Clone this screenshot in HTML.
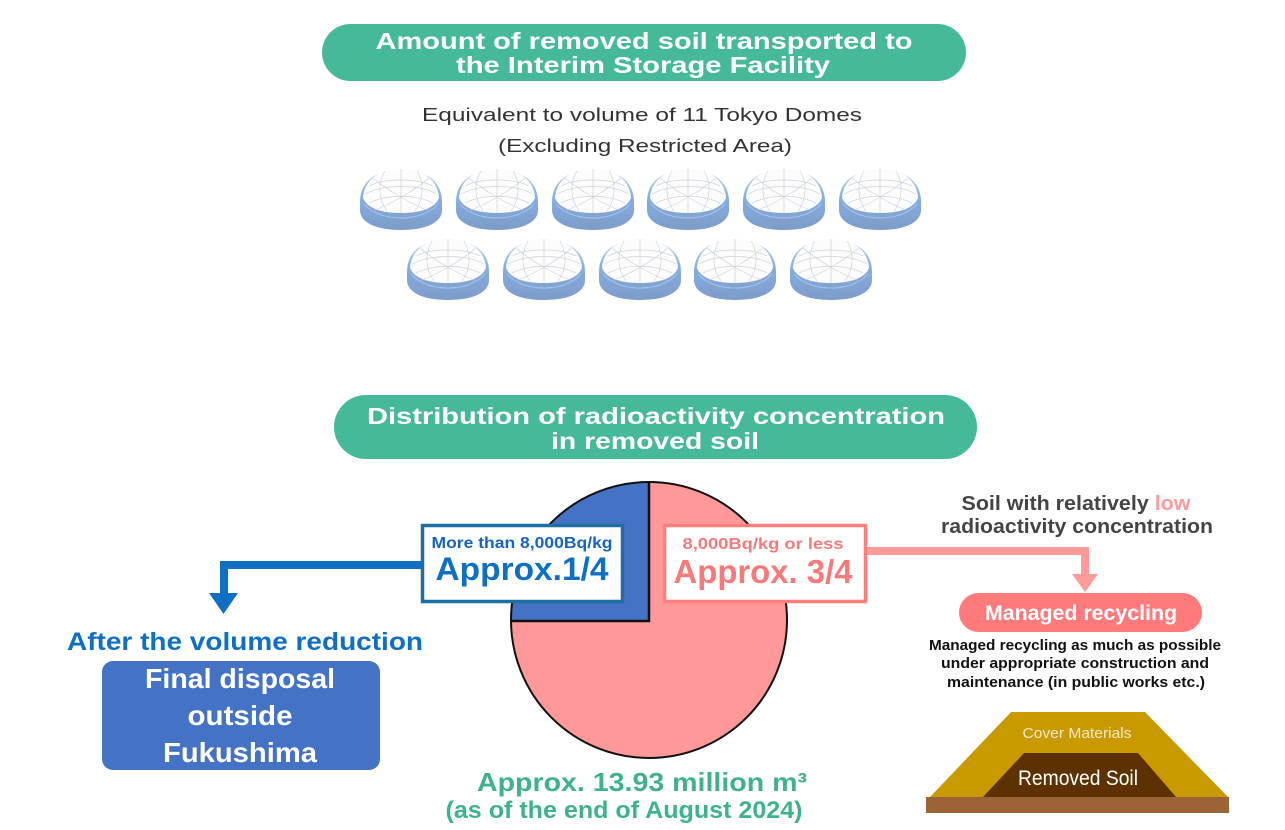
<!DOCTYPE html>
<html><head><meta charset="utf-8"><style>
html,body{margin:0;padding:0;background:#fff;}
svg{display:block;}
text{font-family:"Liberation Sans",Arial,sans-serif;}
</style></head><body>
<svg width="1285" height="830" viewBox="0 0 1285 830" xmlns="http://www.w3.org/2000/svg">
<defs>
<linearGradient id="band" x1="0" y1="0" x2="0" y2="1">
<stop offset="0" stop-color="#b3cdef"/><stop offset="0.5" stop-color="#86acdf"/><stop offset="1" stop-color="#7d9cc8"/>
</linearGradient>
<g id="dome">
<path d="M1,34 C1,14 16,2 42,2 C68,2 83,14 83,34 L83,42 C83,55 66,62 42,62 C18,62 1,55 1,42 Z" fill="url(#band)"/>
<path d="M4,30 C5,12 20,1 42,1 C64,1 79,12 80,30 C76,40 62,45 42,45 C22,45 8,40 4,30 Z" fill="#fcfcfc"/>
<g fill="none" stroke="#cfd2d8" stroke-width="0.7">
<path d="M10,18 C25,10 58,10 74,18"/>
<path d="M6,26 C25,16 60,16 78,26"/>
<path d="M10,35 C28,26 56,26 74,35"/>
<path d="M26,3 C18,16 20,32 28,43"/>
<path d="M42,1 L42,45"/>
<path d="M58,3 C66,16 64,32 56,43"/>
<path d="M14,10 C28,22 52,36 68,42"/>
<path d="M70,10 C56,22 32,36 16,42"/>
</g>
<path d="M5,36 C14,46 28,50 42,50 C56,50 70,46 79,36" fill="none" stroke="#a7c2e8" stroke-width="1"/>
</g>
</defs>

<!-- Header 1 -->
<rect x="322" y="24" width="644" height="57" rx="28.5" fill="#45b998"/>
<text x="644" y="49" font-size="23" font-weight="bold" fill="#fff" text-anchor="middle" textLength="537" lengthAdjust="spacingAndGlyphs">Amount of removed soil transported to</text>
<text x="643" y="73" font-size="23" font-weight="bold" fill="#fff" text-anchor="middle" textLength="374" lengthAdjust="spacingAndGlyphs">the Interim Storage Facility</text>

<text x="642" y="121" font-size="18" fill="#333" text-anchor="middle" textLength="440" lengthAdjust="spacingAndGlyphs">Equivalent to volume of 11 Tokyo Domes</text>
<text x="645" y="152" font-size="18" fill="#333" text-anchor="middle" textLength="294" lengthAdjust="spacingAndGlyphs">(Excluding Restricted Area)</text>

<!-- Domes -->
<use href="#dome" x="359" y="168"/>
<use href="#dome" x="455" y="168"/>
<use href="#dome" x="551" y="168"/>
<use href="#dome" x="646" y="168"/>
<use href="#dome" x="742" y="168"/>
<use href="#dome" x="838" y="168"/>
<use href="#dome" x="406" y="238"/>
<use href="#dome" x="502" y="238"/>
<use href="#dome" x="598" y="238"/>
<use href="#dome" x="693" y="238"/>
<use href="#dome" x="789" y="238"/>

<!-- Header 2 -->
<rect x="334" y="395" width="643" height="64" rx="32" fill="#45b998"/>
<text x="656" y="424" font-size="23" font-weight="bold" fill="#fff" text-anchor="middle" textLength="578" lengthAdjust="spacingAndGlyphs">Distribution of radioactivity concentration</text>
<text x="655" y="449" font-size="23" font-weight="bold" fill="#fff" text-anchor="middle" textLength="208" lengthAdjust="spacingAndGlyphs">in removed soil</text>

<!-- Pie -->
<path d="M649,620 L649,482 A138,138 0 1 1 511,620 Z" fill="#ff9999"/>
<path d="M649,620 L511,620 A138,138 0 0 1 649,482 Z" fill="#4472c4"/>
<circle cx="649" cy="620" r="138" fill="none" stroke="#111" stroke-width="2"/>
<path d="M511,621 L649,621 L649,482" fill="none" stroke="#111" stroke-width="2.5"/>

<!-- Blue connector -->
<path d="M421,565 L224,565 L224,594" fill="none" stroke="#0e6fc3" stroke-width="8"/>
<polygon points="209,593 238,593 223.5,614" fill="#0e6fc3"/>

<!-- Pink connector -->
<path d="M867,551 L1085,551 L1085,575" fill="none" stroke="#ff9a9a" stroke-width="8"/>
<polygon points="1072,574 1098,574 1085,592" fill="#ff9a9a"/>

<!-- Blue label box -->
<rect x="422.5" y="525.5" width="200" height="76" fill="#fff" stroke="#1b6fa3" stroke-width="3.5"/>
<text x="522" y="548" font-size="16" font-weight="bold" fill="#1565c0" text-anchor="middle" textLength="181" lengthAdjust="spacingAndGlyphs">More than 8,000Bq/kg</text>
<text x="522" y="580" font-size="32" font-weight="bold" fill="#0e6fc3" text-anchor="middle" textLength="173" lengthAdjust="spacingAndGlyphs">Approx.1/4</text>

<!-- Pink label box -->
<rect x="664.5" y="525.5" width="201" height="76" fill="#fff" stroke="#ff7f7f" stroke-width="3.5"/>
<text x="763" y="549" font-size="16" font-weight="bold" fill="#f77a7a" text-anchor="middle" textLength="161" lengthAdjust="spacingAndGlyphs">8,000Bq/kg or less</text>
<text x="763" y="583" font-size="33" font-weight="bold" fill="#f77a7a" text-anchor="middle" textLength="179" lengthAdjust="spacingAndGlyphs">Approx. 3/4</text>

<!-- Left side -->
<text x="245" y="650" font-size="25" font-weight="bold" fill="#0e6fc3" text-anchor="middle" textLength="356" lengthAdjust="spacingAndGlyphs">After the volume reduction</text>
<rect x="102" y="661" width="278" height="109" rx="11" fill="#4472c4"/>
<text x="240" y="688" font-size="28" font-weight="bold" fill="#fff" text-anchor="middle" textLength="190" lengthAdjust="spacingAndGlyphs">Final disposal</text>
<text x="240" y="725" font-size="28" font-weight="bold" fill="#fff" text-anchor="middle" textLength="105" lengthAdjust="spacingAndGlyphs">outside</text>
<text x="240" y="762" font-size="28" font-weight="bold" fill="#fff" text-anchor="middle" textLength="154" lengthAdjust="spacingAndGlyphs">Fukushima</text>

<!-- Pie bottom text -->
<text x="642" y="791" font-size="26" font-weight="bold" fill="#3db28c" text-anchor="middle" textLength="330" lengthAdjust="spacingAndGlyphs">Approx. 13.93 million m³</text>
<text x="624" y="818" font-size="24" font-weight="bold" fill="#3db28c" text-anchor="middle" textLength="357" lengthAdjust="spacingAndGlyphs">(as of the end of August 2024)</text>

<!-- Right side -->
<text x="1076" y="510" font-size="20" font-weight="bold" fill="#444" text-anchor="middle" textLength="229" lengthAdjust="spacingAndGlyphs">Soil with relatively <tspan fill="#ff9a9a">low</tspan></text>
<text x="1077" y="533" font-size="20" font-weight="bold" fill="#444" text-anchor="middle" textLength="272" lengthAdjust="spacingAndGlyphs">radioactivity concentration</text>

<rect x="959" y="593" width="243" height="39" rx="19.5" fill="#ff7b7b"/>
<text x="1081" y="620" font-size="21" font-weight="bold" fill="#fff" text-anchor="middle" textLength="192" lengthAdjust="spacingAndGlyphs">Managed recycling</text>

<text x="1075" y="650" font-size="15" font-weight="bold" fill="#111" text-anchor="middle" textLength="292" lengthAdjust="spacingAndGlyphs">Managed  recycling as much as possible</text>
<text x="1075" y="668" font-size="15" font-weight="bold" fill="#111" text-anchor="middle" textLength="268" lengthAdjust="spacingAndGlyphs">under appropriate construction and</text>
<text x="1076" y="687" font-size="15" font-weight="bold" fill="#111" text-anchor="middle" textLength="258" lengthAdjust="spacingAndGlyphs">maintenance (in public works etc.)</text>

<!-- Embankment -->
<polygon points="1011,712 1145,712 1228,797 930,797" fill="#c89a00"/>
<polygon points="1024,753 1138,753 1176,797 983,797" fill="#5e3200"/>
<rect x="926" y="797" width="303" height="16" fill="#9a6436"/>
<text x="1077" y="738" font-size="15" fill="#f6e8c8" text-anchor="middle" textLength="109" lengthAdjust="spacingAndGlyphs">Cover Materials</text>
<text x="1078" y="785" font-size="21" fill="#fff" text-anchor="middle" textLength="120" lengthAdjust="spacingAndGlyphs">Removed Soil</text>
</svg>
</body></html>
